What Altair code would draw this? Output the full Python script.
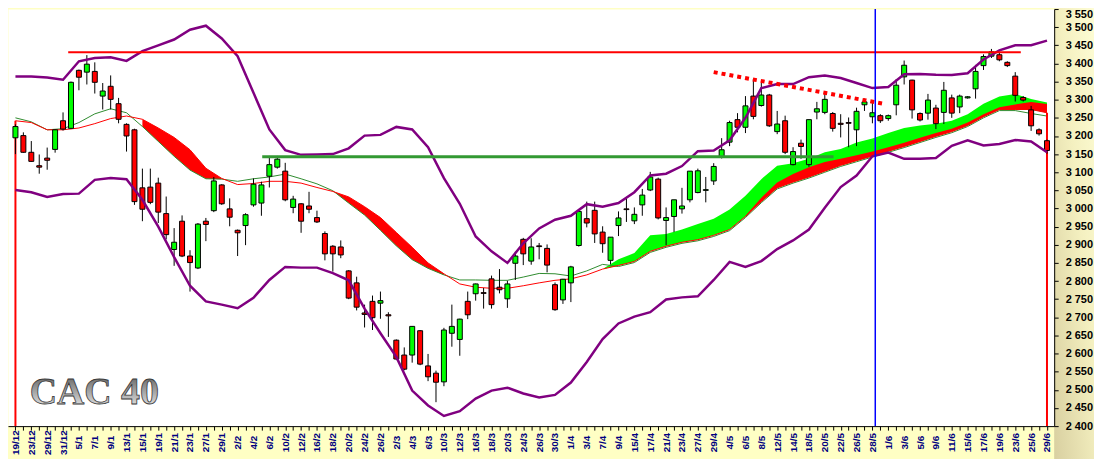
import json
import altair as alt
import pandas as pd

# ---------------- data ----------------
tick_labels = ["19/12", "23/12", "29/12", "31/12", "5/1", "7/1", "9/1", "13/1", "15/1", "19/1",
               "21/1", "23/1", "27/1", "29/1", "2/2", "4/2", "6/2", "10/2", "12/2", "16/2",
               "18/2", "20/2", "24/2", "26/2", "2/3", "4/3", "6/3", "10/3", "12/3", "16/3",
               "18/3", "20/3", "24/3", "26/3", "30/3", "1/4", "3/4", "7/4", "9/4", "15/4",
               "17/4", "21/4", "23/4", "27/4", "29/4", "4/5", "6/5", "8/5", "12/5", "14/5",
               "18/5", "20/5", "22/5", "26/5", "28/5", "1/6", "3/6", "5/6", "9/6", "11/6",
               "15/6", "17/6", "19/6", "23/6", "25/6", "29/6"]

y_ticks = [2400, 2450, 2500, 2550, 2600, 2650, 2700, 2750, 2800, 2850, 2900, 2950,
           3000, 3050, 3100, 3150, 3200, 3250, 3300, 3350, 3400, 3450, 3500, 3550]

opens = [3195, 3201, 3155, 3118, 3139, 3163, 3242, 3221, 3381, 3376,
         3378, 3310, 3337, 3289, 3232, 3217, 3057, 3059, 3070, 2986,
         2887, 2965, 2869, 2836, 2965, 2994, 3065, 2999, 2940, 2953,
         3010, 3015, 3089, 3114, 3103, 3003, 3013, 3007, 2975, 2931,
         2896, 2894, 2828, 2795, 2712, 2744, 2739, 2707, 2637, 2596,
         2596, 2663, 2566, 2546, 2522, 2656, 2639, 2744, 2765, 2768,
         2806, 2783, 2751, 2849, 2915, 2855, 2897, 2890, 2790, 2748,
         2795, 2898, 2972, 2995, 2935, 2857, 2953, 2999, 2966, 3010,
         3051, 3081, 2967, 2978, 2999, 3024, 3044, 3050, 3076, 3142,
         3183, 3245, 3224, 3310, 3284, 3313, 3212, 3242, 3121, 3180,
         3121, 3266, 3265, 3262, 3235, 3237, 3217, 3286, 3253, 3256,
         3248, 3286, 3363, 3354, 3262, 3263, 3277, 3265, 3305, 3280,
         3305, 3330, 3394, 3420, 3424, 3403, 3365, 3306, 3272, 3217,
         3187]
highs = [3232, 3210, 3186, 3149, 3168, 3218, 3265, 3350, 3383, 3423,
         3403, 3346, 3367, 3305, 3235, 3220, 3110, 3110, 3085, 3033,
         2946, 2981, 2885, 2960, 2974, 3087, 3067, 3028, 2942, 2987,
         3083, 3074, 3145, 3145, 3126, 3035, 3015, 3046, 2994, 2937,
         2899, 2912, 2830, 2812, 2735, 2760, 2771, 2714, 2639, 2617,
         2676, 2665, 2599, 2553, 2671, 2735, 2696, 2771, 2793, 2781,
         2815, 2833, 2801, 2881, 2919, 2918, 2905, 2901, 2796, 2806,
         2842, 2995, 3019, 3019, 2951, 2921, 2992, 3028, 3003, 3054,
         3101, 3085, 3003, 3024, 3057, 3103, 3110, 3087, 3125, 3194,
         3242, 3263, 3310, 3357, 3346, 3316, 3269, 3256, 3169, 3190,
         3245, 3294, 3321, 3266, 3260, 3251, 3278, 3303, 3294, 3260,
         3259, 3357, 3408, 3355, 3265, 3316, 3286, 3349, 3314, 3314,
         3310, 3396, 3425, 3440, 3430, 3406, 3376, 3310, 3283, 3221,
         3190]
lows = [3150, 3154, 3129, 3096, 3107, 3154, 3215, 3219, 3326, 3342,
        3317, 3273, 3273, 3235, 3157, 3010, 2965, 3012, 2960, 2915,
        2842, 2866, 2771, 2833, 2910, 2990, 3010, 2951, 2869, 2899,
        3005, 2980, 3058, 3110, 3020, 2987, 2933, 2987, 2960, 2857,
        2826, 2863, 2750, 2719, 2672, 2665, 2696, 2646, 2582, 2554,
        2575, 2568, 2524, 2466, 2510, 2619, 2594, 2695, 2746, 2724,
        2724, 2766, 2726, 2803, 2844, 2845, 2860, 2824, 2718, 2737,
        2742, 2895, 2948, 2905, 2878, 2846, 2924, 2963, 2957, 2980,
        3048, 2970, 2899, 2935, 2986, 3017, 3042, 3017, 3065, 3138,
        3172, 3210, 3208, 3246, 3281, 3225, 3205, 3150, 3119, 3137,
        3115, 3246, 3260, 3212, 3196, 3169, 3172, 3269, 3235, 3236,
        3242, 3257, 3342, 3248, 3240, 3245, 3219, 3233, 3250, 3263,
        3303, 3303, 3382, 3415, 3406, 3390, 3295, 3295, 3214, 3201,
        3151]
closes = [3226, 3155, 3130, 3114, 3133, 3217, 3219, 3348, 3362, 3398,
          3348, 3324, 3301, 3246, 3200, 3019, 2998, 3017, 2990, 2928,
          2907, 2869, 2851, 2957, 2956, 3076, 3013, 2976, 2933, 2983,
          3067, 3065, 3121, 3136, 3024, 3026, 2965, 2998, 2963, 2875,
          2875, 2872, 2753, 2728, 2708, 2699, 2746, 2704, 2585, 2557,
          2675, 2571, 2536, 2521, 2665, 2675, 2695, 2707, 2792, 2766,
          2735, 2776, 2792, 2869, 2875, 2894, 2895, 2844, 2721, 2805,
          2839, 2992, 2960, 2930, 2903, 2921, 2974, 2997, 2984, 3037,
          3087, 2974, 2975, 3024, 3007, 3103, 3104, 3052, 3116, 3162,
          3237, 3224, 3283, 3254, 3313, 3228, 3233, 3155, 3157, 3171,
          3245, 3275, 3301, 3221, 3232, 3235, 3268, 3294, 3264, 3242,
          3256, 3340, 3395, 3272, 3244, 3299, 3234, 3326, 3263, 3310,
          3308, 3378, 3419, 3432, 3410, 3394, 3312, 3299, 3228, 3206,
          3160]

# indicator curves, sampled every second session (index 0, 2, ..., 130)
band_index = list(range(0, 131, 2))
upper_band = [3364, 3364, 3361, 3355, 3406, 3415, 3417, 3407, 3434, 3450, 3466, 3493, 3504, 3469,
              3420, 3319, 3218, 3161, 3148, 3149, 3150, 3166, 3201, 3203, 3225, 3218, 3169, 3084,
              3013, 2923, 2882, 2850, 2904, 2945, 2969, 2980, 3012, 3005, 3015, 3045, 3091, 3096,
              3117, 3158, 3160, 3188, 3250, 3332, 3343, 3343, 3362, 3367, 3360, 3346, 3332, 3335,
              3370, 3371, 3369, 3368, 3373, 3411, 3436, 3450, 3450, 3463]
lower_band = [3051, 3045, 3032, 3040, 3041, 3079, 3084, 3081, 3024, 2950, 2866, 2787, 2744, 2735,
              2725, 2754, 2803, 2839, 2837, 2837, 2822, 2802, 2724, 2656, 2591, 2498, 2457, 2428,
              2441, 2476, 2498, 2506, 2490, 2479, 2486, 2520, 2577, 2640, 2683, 2702, 2714, 2749,
              2755, 2758, 2803, 2853, 2839, 2855, 2888, 2912, 2942, 3002, 3059, 3091, 3144, 3154,
              3137, 3137, 3139, 3173, 3188, 3174, 3178, 3189, 3185, 3155]
ma_green = [3250, 3239, 3217, 3220, 3237, 3261, 3275, 3264, 3226, 3185, 3144, 3106, 3082, 3081,
            3075, 3082, 3087, 3095, 3082, 3068, 3049, 3015, 2982, 2940, 2897, 2859, 2835, 2817,
            2803, 2803, 2802, 2802, 2811, 2821, 2820, 2814, 2828, 2846, 2840, 2851, 2879, 2893,
            2904, 2911, 2923, 2939, 2975, 3016, 3054, 3070, 3084, 3100, 3116, 3129, 3142, 3155,
            3168, 3182, 3196, 3209, 3226, 3250, 3270, 3270, 3262, 3255]
ma_red = [3242, 3237, 3217, 3217, 3222, 3234, 3248, 3255, 3246, 3222, 3196, 3162, 3111, 3083,
          3066, 3069, 3075, 3075, 3070, 3058, 3047, 3032, 3005, 2975, 2934, 2893, 2850, 2820,
          2792, 2783, 2780, 2780, 2787, 2795, 2802, 2806, 2817, 2833, 2843, 2854, 2882, 2896,
          2907, 2914, 2926, 2942, 2978, 3019, 3057, 3073, 3087, 3103, 3119, 3132, 3145, 3158,
          3171, 3185, 3199, 3212, 3229, 3253, 3273, 3273, 3273, 3264]

# green ribbon (top edge) from session 74, red ribbon top from session 92
cloud_index = list(range(74, 131, 2))
cloud_top = [2833, 2860, 2877, 2926, 2930, 2942, 2957, 2972, 2997, 3035, 3081, 3118, 3125, 3137,
             3155, 3164, 3182, 3193, 3208, 3222, 3229, 3234, 3242, 3260, 3289, 3309, 3316, 3302,
             3292]
sliver_index = list(range(92, 131, 2))
sliver_top = [2980, 3030, 3072, 3095, 3114, 3128, 3137, 3147, 3157, 3169, 3181, 3195, 3208, 3220,
              3237, 3260, 3279, 3287, 3294, 3288]
decline_ranges = [(16, 26), (40, 54)]

# drawn lines
resistance = {"x": 6.65, "x2": 126.7, "y": 3431}
support = {"x": 31.1, "x2": 103.1, "y": 3143}
trend = {"x": 88.0, "x2": 109.6, "y": 3376, "y2": 3288}
marker_x = [108.36]

# logo (session position of its left edge, baseline level)
logo = {"x": 1.8, "y": 2460, "t": "CAC 40"}

# ---------------- frames ----------------
N = len(opens)
candles = pd.DataFrame({"i": list(range(N)), "o": opens, "h": highs, "l": lows, "c": closes})
candles["dir"] = ["up" if c >= o else "down" for o, c in zip(opens, closes)]

bands = pd.DataFrame({"i": band_index, "up": upper_band, "lo": lower_band,
                      "mg": ma_green, "mr": ma_red})
red_of = dict(zip(band_index, ma_red))
green_of = dict(zip(band_index, ma_green))
decline = pd.DataFrame([{"i": i, "top": red_of[i], "bot": green_of[i], "seg": k}
                        for k, (a, b) in enumerate(decline_ranges) for i in range(a, b + 1, 2)])
cloud = pd.DataFrame({"i": cloud_index, "top": cloud_top, "bot": [red_of[i] for i in cloud_index]})
sliver = pd.DataFrame({"i": sliver_index, "top": sliver_top, "bot": [red_of[i] for i in sliver_index]})
edges = pd.DataFrame({"x": [0, N - 1], "y": [ma_red[0], ma_red[-1]], "y2": [2400, 2400]})
logo_df = pd.DataFrame([logo])

# ---------------- scales / axes ----------------
W, H = 1051, 419
xs = alt.Scale(domain=[-0.31, 130.28], nice=False, zero=False)
ys = alt.Scale(domain=[2400, 3550], nice=False, zero=False)

label_js = json.dumps(tick_labels)
x_axis = alt.Axis(values=list(range(N)),
                  labelExpr=f"datum.value % 2 == 0 ? {label_js}[datum.value / 2] : ''",
                  labelAngle=-90, labelAlign="center", labelBaseline="middle",
                  labelPadding=12, tickSize=4, tickColor="black", domainColor="black",
                  labelColor="#000080", labelFont="Liberation Sans", labelFontSize=10,
                  labelFontWeight="bold", labelOverlap=False, labelFlush=False,
                  labelBound=False, grid=False, title=None, zindex=1)
y_axis = alt.Axis(orient="right", values=y_ticks,
                  labelExpr="replace(format(datum.value, ',d'), ',', ' ')",
                  tickSize=4, labelPadding=7, tickColor="black", domainColor="black",
                  labelColor="black", labelFont="Liberation Sans", labelFontSize=11,
                  labelFontWeight="bold", labelAlign="left",
                  labelBaseline={"condition": {"test": "datum.value >= 3550", "value": "top"},
                                 "value": "middle"},
                  labelOverlap=False, labelFlush=False, grid=False, title=None, zindex=1)


def X(f="i"):
    return alt.X(f"{f}:Q", scale=xs, axis=x_axis)


def Y(f):
    return alt.Y(f"{f}:Q", scale=ys, axis=y_axis)


layers = []
# shaded right-hand panel behind the price labels
panel_grad = alt.Gradient(gradient="linear", x1=1, y1=0, x2=0, y2=1,
                          stops=[alt.GradientStop(color="#FFFFD8", offset=0),
                                 alt.GradientStop(color="#F4F0C0", offset=0.45),
                                 alt.GradientStop(color="#D8CFA0", offset=1)])
layers.append(alt.Chart(pd.DataFrame({"k": [0]})).mark_rect(color=panel_grad, clip=False).encode(
    x=alt.value(W), x2=alt.value(W + 45), y=alt.value(-10), y2=alt.value(H + 40)))

layers.append(alt.Chart(decline).mark_area(color="#FF0000", opacity=1).encode(
    x=X(), y=Y("top"), y2="bot", detail="seg:N"))
layers.append(alt.Chart(cloud).mark_area(color="#00FF00", opacity=1).encode(
    x=X(), y=Y("top"), y2="bot"))
layers.append(alt.Chart(sliver).mark_area(color="#FF0000", opacity=1).encode(
    x=X(), y=Y("top"), y2="bot"))
layers.append(alt.Chart(bands).mark_line(color="#2E8B2E", strokeWidth=1).encode(x=X(), y=Y("mg")))
layers.append(alt.Chart(bands).mark_line(color="#FF0000", strokeWidth=1).encode(x=X(), y=Y("mr")))
layers.append(alt.Chart(edges).mark_rule(color="#FF0000", strokeWidth=2).encode(
    x=X("x"), y=Y("y"), y2="y2"))
layers.append(alt.Chart(candles).mark_rule(color="black", strokeWidth=1).encode(
    x=X(), y=Y("l"), y2="h"))
layers.append(alt.Chart(candles).mark_bar(width=5, stroke="black", strokeWidth=1).encode(
    x=X(), y=Y("o"), y2="c",
    color=alt.Color("dir:N", scale=alt.Scale(domain=["up", "down"], range=["#00FF00", "#FF0000"]),
                    legend=None)))
layers.append(alt.Chart(bands).mark_line(color="#800080", strokeWidth=2.5).encode(x=X(), y=Y("up")))
layers.append(alt.Chart(bands).mark_line(color="#800080", strokeWidth=2.5).encode(x=X(), y=Y("lo")))
layers.append(alt.Chart(pd.DataFrame([support])).mark_rule(color="#339933", strokeWidth=3).encode(
    x=X("x"), x2="x2", y=Y("y")))
layers.append(alt.Chart(pd.DataFrame([resistance])).mark_rule(color="#FF0000", strokeWidth=2).encode(
    x=X("x"), x2="x2", y=Y("y")))
layers.append(alt.Chart(pd.DataFrame([trend])).mark_rule(
    color="#FF0000", strokeWidth=4, strokeDash=[4, 4], strokeCap="butt").encode(
    x=X("x"), x2="x2", y=Y("y"), y2="y2"))
layers.append(alt.Chart(pd.DataFrame({"x": marker_x})).mark_rule(color="#0000FF", strokeWidth=1.5).encode(
    x=X("x")))

layers.append(alt.Chart(logo_df).mark_text(
    align="left", baseline="alphabetic", font="Liberation Serif", fontSize=38, fontWeight="bold",
    stroke="#3a3a3a", strokeWidth=0.8,
    color=alt.Gradient(gradient="linear", x1=0, y1=0, x2=0, y2=1,
                       stops=[alt.GradientStop(color="#505050", offset=0),
                              alt.GradientStop(color="#9c9c9c", offset=0.45),
                              alt.GradientStop(color="#f6f6f6", offset=1)])).encode(
    x=X("x"), y=Y("y"), text="t:N"))

chart = alt.layer(*layers).properties(
    width=W, height=H,
    autosize=alt.AutoSizeParams(type="none"),
    padding={"left": 0, "top": 0, "right": 40, "bottom": 34},
    background="#FFFFC4",
).configure_view(fill="white", stroke="transparent")

chart.save("out.html", embed_options={"renderer": "svg", "actions": False})
